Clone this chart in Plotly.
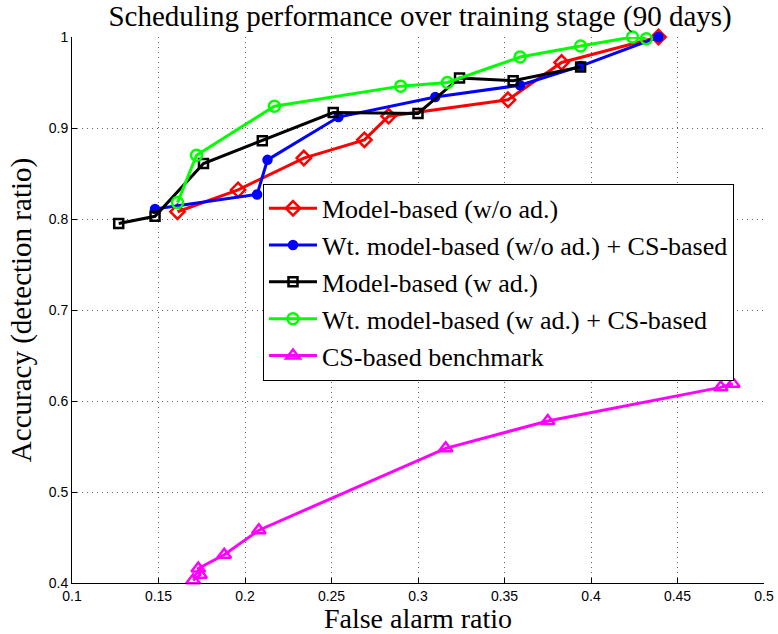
import plotly.graph_objects as go

red_x = [0.161, 0.196, 0.234, 0.269, 0.283, 0.352, 0.383, 0.439]
red_y = [0.808, 0.832, 0.867, 0.887, 0.913, 0.931, 0.972, 1.0]

blue_x = [0.148, 0.207, 0.213, 0.254, 0.310, 0.359, 0.394, 0.439]
blue_y = [0.811, 0.827, 0.865, 0.912, 0.934, 0.947, 0.968, 1.0]

black_x = [0.127, 0.148, 0.176, 0.210, 0.251, 0.300, 0.324, 0.355, 0.394]
black_y = [0.795, 0.803, 0.861, 0.886, 0.917, 0.916, 0.955, 0.952, 0.967]

green_x = [0.161, 0.172, 0.217, 0.290, 0.317, 0.359, 0.394, 0.424, 0.432]
green_y = [0.818, 0.870, 0.924, 0.946, 0.950, 0.978, 0.990, 1.0, 0.998]

mag_x = [0.170, 0.174, 0.173, 0.188, 0.208, 0.316, 0.375, 0.475, 0.482]
mag_y = [0.403, 0.409, 0.416, 0.431, 0.458, 0.548, 0.578, 0.615, 0.619]

names = [
    "Model-based (w/o ad.)",
    "Wt. model-based (w/o ad.) + CS-based",
    "Model-based (w ad.)",
    "Wt. model-based (w ad.) + CS-based",
    "CS-based benchmark",
]

x_ticks = [0.1, 0.15, 0.2, 0.25, 0.3, 0.35, 0.4, 0.45, 0.5]
x_ticktext = ["0.1", "0.15", "0.2", "0.25", "0.3", "0.35", "0.4", "0.45", "0.5"]
y_ticks = [0.4, 0.5, 0.6, 0.7, 0.8, 0.9, 1.0]
y_ticktext = ["0.4", "0.5", "0.6", "0.7", "0.8", "0.9", "1"]

series = [
    (red_x, red_y, "#FF0000", "diamond-open", 11),
    (blue_x, blue_y, "#0000FF", "circle", 8),
    (black_x, black_y, "#000000", "square-open", 9),
    (green_x, green_y, "#00FF00", "circle-open", 11),
    (mag_x, mag_y, "#FF00FF", "triangle-up-open", 12),
]

fig = go.Figure()
for (xs, ys, col, sym, sz), nm in zip(series, names):
    fig.add_trace(go.Scatter(
        x=xs, y=ys, mode="lines+markers", name=nm,
        line=dict(color=col, width=3),
        marker=dict(symbol=sym, size=sz, color=col, line=dict(color=col, width=2.5)),
        cliponaxis=False,
    ))

serif = "Liberation Serif"
fig.update_layout(
    width=778, height=634,
    margin=dict(l=72, r=14, t=37, b=51, autoexpand=False),
    paper_bgcolor="white", plot_bgcolor="white",
    title=dict(text="Scheduling performance over training stage (90 days)",
               font=dict(family=serif, size=29, color="black"),
               x=0.503, xref="paper", xanchor="center", y=0.975, yanchor="middle"),
    legend=dict(x=0.276, y=0.731, xanchor="left", yanchor="top",
                bgcolor="white", bordercolor="black", borderwidth=1,
                font=dict(family=serif, size=26, color="black"),
                itemwidth=48, tracegroupgap=0),
    showlegend=True,
)
fig.update_xaxes(range=[0.1, 0.5], tickvals=x_ticks, ticktext=x_ticktext,
                 showline=True, linecolor="black", linewidth=1, mirror=False,
                 ticks="inside", ticklen=5, tickcolor="black",
                 showgrid=True, gridcolor="#666", griddash="1px,4px", gridwidth=1,
                 zeroline=False, automargin=False,
                 tickfont=dict(family="Liberation Sans", size=14, color="black"),
                 title=dict(text="False alarm ratio", font=dict(family=serif, size=28, color="black"), standoff=9))
fig.update_yaxes(range=[0.4, 1.0], tickvals=y_ticks, ticktext=y_ticktext,
                 showline=True, linecolor="black", linewidth=1, mirror=False,
                 ticks="inside", ticklen=5, tickcolor="black",
                 showgrid=True, gridcolor="#666", griddash="1px,4px", gridwidth=1,
                 zeroline=False, automargin=False,
                 tickfont=dict(family="Liberation Sans", size=14, color="black"),
                 title=dict(text="Accuracy (detection ratio)", font=dict(family=serif, size=29, color="black"), standoff=8))

fig.write_html("out.html")
